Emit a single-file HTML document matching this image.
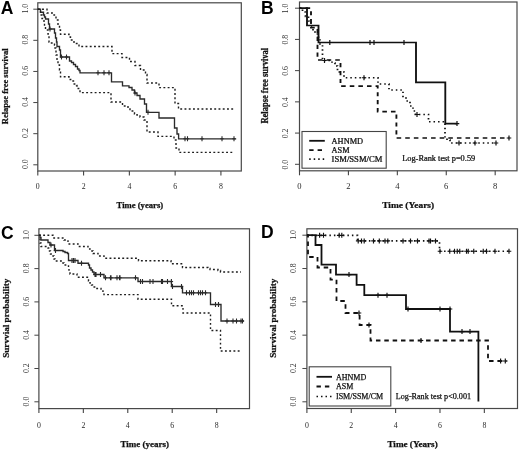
<!DOCTYPE html>
<html><head><meta charset="utf-8"><style>html,body{margin:0;padding:0;background:#fff;width:520px;height:452px;overflow:hidden}svg{display:block}</style></head>
<body>
<svg style="will-change:transform" width="520" height="452" viewBox="0 0 520 452" font-family="Liberation Serif">
<style>text{stroke:#111;stroke-width:0.25px}</style>
<rect width="520" height="452" fill="#fff"/>
<rect x="37.8" y="2.8" width="203.5" height="168.2" fill="none" stroke="#484848" stroke-width="1.2"/>
<path d="M37.8 171V175.5" stroke="#444" stroke-width="1.1"/>
<text x="37.8" y="189.2" font-size="7.8" text-anchor="middle" fill="#2a2a2a" style="stroke:none" transform="matrix(1.0 0 0 1 0.0 0)">0</text>
<path d="M83.58 171V175.5" stroke="#444" stroke-width="1.1"/>
<text x="83.58" y="189.2" font-size="7.8" text-anchor="middle" fill="#2a2a2a" style="stroke:none" transform="matrix(1.0 0 0 1 0.0 0)">2</text>
<path d="M129.36 171V175.5" stroke="#444" stroke-width="1.1"/>
<text x="129.36" y="189.2" font-size="7.8" text-anchor="middle" fill="#2a2a2a" style="stroke:none" transform="matrix(1.0 0 0 1 0.0 0)">4</text>
<path d="M175.14 171V175.5" stroke="#444" stroke-width="1.1"/>
<text x="175.14" y="189.2" font-size="7.8" text-anchor="middle" fill="#2a2a2a" style="stroke:none" transform="matrix(1.0 0 0 1 0.0 0)">6</text>
<path d="M220.92 171V175.5" stroke="#444" stroke-width="1.1"/>
<text x="220.92" y="189.2" font-size="7.8" text-anchor="middle" fill="#2a2a2a" style="stroke:none" transform="matrix(1.0 0 0 1 0.0 0)">8</text>
<path d="M33.3 164.8H37.8" stroke="#444" stroke-width="1"/>
<text x="28.3" y="164.20000000000002" font-size="7.8" text-anchor="middle" fill="#2a2a2a" style="stroke:none" transform="rotate(-90 28.3 164.20000000000002)">0.0</text>
<path d="M33.3 133.68H37.8" stroke="#444" stroke-width="1"/>
<text x="28.3" y="133.08" font-size="7.8" text-anchor="middle" fill="#2a2a2a" style="stroke:none" transform="rotate(-90 28.3 133.08)">0.2</text>
<path d="M33.3 102.56H37.8" stroke="#444" stroke-width="1"/>
<text x="28.3" y="101.96000000000001" font-size="7.8" text-anchor="middle" fill="#2a2a2a" style="stroke:none" transform="rotate(-90 28.3 101.96000000000001)">0.4</text>
<path d="M33.3 71.44H37.8" stroke="#444" stroke-width="1"/>
<text x="28.3" y="70.84" font-size="7.8" text-anchor="middle" fill="#2a2a2a" style="stroke:none" transform="rotate(-90 28.3 70.84)">0.6</text>
<path d="M33.3 40.32H37.8" stroke="#444" stroke-width="1"/>
<text x="28.3" y="39.72" font-size="7.8" text-anchor="middle" fill="#2a2a2a" style="stroke:none" transform="rotate(-90 28.3 39.72)">0.8</text>
<path d="M33.3 9.2H37.8" stroke="#444" stroke-width="1"/>
<text x="28.3" y="8.6" font-size="7.8" text-anchor="middle" fill="#2a2a2a" style="stroke:none" transform="rotate(-90 28.3 8.6)">1.0</text>
<rect x="299.5" y="2" width="217.5" height="168.8" fill="none" stroke="#484848" stroke-width="1.2"/>
<path d="M299.5 170.8V175.3" stroke="#444" stroke-width="1.1"/>
<text x="299.5" y="189.0" font-size="7.8" text-anchor="middle" fill="#2a2a2a" style="stroke:none" transform="matrix(1.1 0 0 1 -29.95 0)">0</text>
<path d="M348.42 170.8V175.3" stroke="#444" stroke-width="1.1"/>
<text x="348.42" y="189.0" font-size="7.8" text-anchor="middle" fill="#2a2a2a" style="stroke:none" transform="matrix(1.1 0 0 1 -34.842 0)">2</text>
<path d="M397.34 170.8V175.3" stroke="#444" stroke-width="1.1"/>
<text x="397.34" y="189.0" font-size="7.8" text-anchor="middle" fill="#2a2a2a" style="stroke:none" transform="matrix(1.1 0 0 1 -39.734 0)">4</text>
<path d="M446.26 170.8V175.3" stroke="#444" stroke-width="1.1"/>
<text x="446.26" y="189.0" font-size="7.8" text-anchor="middle" fill="#2a2a2a" style="stroke:none" transform="matrix(1.1 0 0 1 -44.626 0)">6</text>
<path d="M495.18 170.8V175.3" stroke="#444" stroke-width="1.1"/>
<text x="495.18" y="189.0" font-size="7.8" text-anchor="middle" fill="#2a2a2a" style="stroke:none" transform="matrix(1.1 0 0 1 -49.518 0)">8</text>
<path d="M295.0 164.3H299.5" stroke="#444" stroke-width="1"/>
<text x="287.9" y="164.60000000000002" font-size="7.8" text-anchor="middle" fill="#2a2a2a" style="stroke:none" transform="rotate(-90 287.9 164.60000000000002)">0.0</text>
<path d="M295.0 133.08H299.5" stroke="#444" stroke-width="1"/>
<text x="287.9" y="133.38000000000002" font-size="7.8" text-anchor="middle" fill="#2a2a2a" style="stroke:none" transform="rotate(-90 287.9 133.38000000000002)">0.2</text>
<path d="M295.0 101.86H299.5" stroke="#444" stroke-width="1"/>
<text x="287.9" y="102.16" font-size="7.8" text-anchor="middle" fill="#2a2a2a" style="stroke:none" transform="rotate(-90 287.9 102.16)">0.4</text>
<path d="M295.0 70.64H299.5" stroke="#444" stroke-width="1"/>
<text x="287.9" y="70.94" font-size="7.8" text-anchor="middle" fill="#2a2a2a" style="stroke:none" transform="rotate(-90 287.9 70.94)">0.6</text>
<path d="M295.0 39.42H299.5" stroke="#444" stroke-width="1"/>
<text x="287.9" y="39.72" font-size="7.8" text-anchor="middle" fill="#2a2a2a" style="stroke:none" transform="rotate(-90 287.9 39.72)">0.8</text>
<path d="M295.0 8.2H299.5" stroke="#444" stroke-width="1"/>
<text x="287.9" y="8.5" font-size="7.8" text-anchor="middle" fill="#2a2a2a" style="stroke:none" transform="rotate(-90 287.9 8.5)">1.0</text>
<rect x="38.9" y="228.8" width="210.6" height="179.8" fill="none" stroke="#484848" stroke-width="1.2"/>
<path d="M38.9 408.6V413.1" stroke="#444" stroke-width="1.1"/>
<text x="38.9" y="427.5" font-size="7.8" text-anchor="middle" fill="#2a2a2a" style="stroke:none" transform="matrix(1.0 0 0 1 0.0 0)">0</text>
<path d="M83.34 408.6V413.1" stroke="#444" stroke-width="1.1"/>
<text x="83.34" y="427.5" font-size="7.8" text-anchor="middle" fill="#2a2a2a" style="stroke:none" transform="matrix(1.0 0 0 1 0.0 0)">2</text>
<path d="M127.78 408.6V413.1" stroke="#444" stroke-width="1.1"/>
<text x="127.78" y="427.5" font-size="7.8" text-anchor="middle" fill="#2a2a2a" style="stroke:none" transform="matrix(1.0 0 0 1 0.0 0)">4</text>
<path d="M172.22 408.6V413.1" stroke="#444" stroke-width="1.1"/>
<text x="172.22" y="427.5" font-size="7.8" text-anchor="middle" fill="#2a2a2a" style="stroke:none" transform="matrix(1.0 0 0 1 0.0 0)">6</text>
<path d="M216.66 408.6V413.1" stroke="#444" stroke-width="1.1"/>
<text x="216.66" y="427.5" font-size="7.8" text-anchor="middle" fill="#2a2a2a" style="stroke:none" transform="matrix(1.0 0 0 1 0.0 0)">8</text>
<path d="M34.4 401.8H38.9" stroke="#444" stroke-width="1"/>
<text x="28.6" y="401.5" font-size="7.8" text-anchor="middle" fill="#2a2a2a" style="stroke:none" transform="rotate(-90 28.6 401.5)">0.0</text>
<path d="M34.4 368.5H38.9" stroke="#444" stroke-width="1"/>
<text x="28.6" y="368.2" font-size="7.8" text-anchor="middle" fill="#2a2a2a" style="stroke:none" transform="rotate(-90 28.6 368.2)">0.2</text>
<path d="M34.4 335.2H38.9" stroke="#444" stroke-width="1"/>
<text x="28.6" y="334.9" font-size="7.8" text-anchor="middle" fill="#2a2a2a" style="stroke:none" transform="rotate(-90 28.6 334.9)">0.4</text>
<path d="M34.4 301.9H38.9" stroke="#444" stroke-width="1"/>
<text x="28.6" y="301.59999999999997" font-size="7.8" text-anchor="middle" fill="#2a2a2a" style="stroke:none" transform="rotate(-90 28.6 301.59999999999997)">0.6</text>
<path d="M34.4 268.6H38.9" stroke="#444" stroke-width="1"/>
<text x="28.6" y="268.3" font-size="7.8" text-anchor="middle" fill="#2a2a2a" style="stroke:none" transform="rotate(-90 28.6 268.3)">0.8</text>
<path d="M34.4 235.3H38.9" stroke="#444" stroke-width="1"/>
<text x="28.6" y="235.0" font-size="7.8" text-anchor="middle" fill="#2a2a2a" style="stroke:none" transform="rotate(-90 28.6 235.0)">1.0</text>
<rect x="306.9" y="228.8" width="210.60000000000002" height="179.7" fill="none" stroke="#484848" stroke-width="1.2"/>
<path d="M306.9 408.5V413.0" stroke="#444" stroke-width="1.1"/>
<text x="306.9" y="427.5" font-size="7.8" text-anchor="middle" fill="#2a2a2a" style="stroke:none" transform="matrix(1.0 0 0 1 0.0 0)">0</text>
<path d="M351.26 408.5V413.0" stroke="#444" stroke-width="1.1"/>
<text x="351.26" y="427.5" font-size="7.8" text-anchor="middle" fill="#2a2a2a" style="stroke:none" transform="matrix(1.0 0 0 1 0.0 0)">2</text>
<path d="M395.62 408.5V413.0" stroke="#444" stroke-width="1.1"/>
<text x="395.62" y="427.5" font-size="7.8" text-anchor="middle" fill="#2a2a2a" style="stroke:none" transform="matrix(1.0 0 0 1 0.0 0)">4</text>
<path d="M439.98 408.5V413.0" stroke="#444" stroke-width="1.1"/>
<text x="439.98" y="427.5" font-size="7.8" text-anchor="middle" fill="#2a2a2a" style="stroke:none" transform="matrix(1.0 0 0 1 0.0 0)">6</text>
<path d="M484.34 408.5V413.0" stroke="#444" stroke-width="1.1"/>
<text x="484.34" y="427.5" font-size="7.8" text-anchor="middle" fill="#2a2a2a" style="stroke:none" transform="matrix(1.0 0 0 1 0.0 0)">8</text>
<path d="M302.4 401.8H306.9" stroke="#444" stroke-width="1"/>
<text x="296.1" y="401.5" font-size="7.8" text-anchor="middle" fill="#2a2a2a" style="stroke:none" transform="rotate(-90 296.1 401.5)">0.0</text>
<path d="M302.4 368.48H306.9" stroke="#444" stroke-width="1"/>
<text x="296.1" y="368.18" font-size="7.8" text-anchor="middle" fill="#2a2a2a" style="stroke:none" transform="rotate(-90 296.1 368.18)">0.2</text>
<path d="M302.4 335.16H306.9" stroke="#444" stroke-width="1"/>
<text x="296.1" y="334.86" font-size="7.8" text-anchor="middle" fill="#2a2a2a" style="stroke:none" transform="rotate(-90 296.1 334.86)">0.4</text>
<path d="M302.4 301.84H306.9" stroke="#444" stroke-width="1"/>
<text x="296.1" y="301.53999999999996" font-size="7.8" text-anchor="middle" fill="#2a2a2a" style="stroke:none" transform="rotate(-90 296.1 301.53999999999996)">0.6</text>
<path d="M302.4 268.52H306.9" stroke="#444" stroke-width="1"/>
<text x="296.1" y="268.21999999999997" font-size="7.8" text-anchor="middle" fill="#2a2a2a" style="stroke:none" transform="rotate(-90 296.1 268.21999999999997)">0.8</text>
<path d="M302.4 235.2H306.9" stroke="#444" stroke-width="1"/>
<text x="296.1" y="234.89999999999998" font-size="7.8" text-anchor="middle" fill="#2a2a2a" style="stroke:none" transform="rotate(-90 296.1 234.89999999999998)">1.0</text>
<path d="M37.8 9.2H40.5V12.2H43.5V15H44.5V17H45.5V19H48.5V24H49.5V29H54.5V33H55.5V38H56.5V42H57V46.5H59.5V50H60.5V57H69.5V61H71.5V62.5H73.5V64.5H75.5V66.5H77.5V69H79V70.5H80V72.8H111.5V81.8H122.5V85.8H129V87.5H132V90H134.5V93H137V95.5H140V99H144.5V104H146.5V112.3H159V118H174.5V128H177V134H178.6V138.8H236.2" fill="none" stroke="#2a2a2a" stroke-width="1.35" stroke-linecap="butt"/>
<path d="M37.8 9.2H47V13H54V15H56V20H58V25H59.5V30H60.5V34.2H69V37H70.5V40H74V43.5H79V46.5H112V53.6H122V57.5H129.5V61.5H135V65.5H140.5V70H145.5V74.5H147V83H159V87.6H175V103.5H178.5V109H234.5" fill="none" stroke="#1e1e1e" stroke-width="1.4" stroke-dasharray="1.9 2.35" stroke-linecap="butt"/>
<path d="M37.8 9.2H40.5V15H42V18.5H44V22H44.5V26H45.5V30H48V34H49V42H49.5V43H54.5V45H55V48H56V55H57V60H58V65H59.5V70H60.5V76.8H69V79.5H73V81H73.5V84H76.5V85.5H77V88.5H79.5V90H80V92.6H111V102H122.5V106H128V108H130V111H134.5V114H137V115H140V117H144V120H147V132H158V136.4H174V140H176V148H179V152.4H234" fill="none" stroke="#1e1e1e" stroke-width="1.4" stroke-dasharray="1.9 2.35" stroke-linecap="butt"/>
<path d="M48.3 29H51.7M50 26.5V31.5M59.8 57H63.2M61.5 54.5V59.5M64.8 57H68.2M66.5 54.5V59.5M96.3 72.8H99.7M98 70.3V75.3M102.3 72.8H105.7M104 70.3V75.3M107.3 72.8H110.7M109 70.3V75.3M133.3 93H136.7M135 90.5V95.5M146.3 112.3H149.7M148 109.8V114.8M183.3 138.8H186.7M185 136.3V141.3M185.8 138.8H189.2M187.5 136.3V141.3M200.3 138.8H203.7M202 136.3V141.3M220.3 138.8H223.7M222 136.3V141.3M232.3 138.8H235.7M234 136.3V141.3" fill="none" stroke="#2a2a2a" stroke-width="1.1"/>
<g transform="matrix(1.09 0 0 1 -26.955 0)"><path d="M299.5 8.2H306.381V25.5H316.931V42.5H406.381V82.4H433.261V123.6H443.995" fill="none" stroke="#111" stroke-width="1.7" stroke-linecap="butt"/>
<path d="M325.198 42.5H329.398M327.298 40.0V45.0M362.07899999999995 42.5H366.279M364.179 40.0V45.0M365.74899999999997 42.5H369.949M367.849 40.0V45.0M393.272 42.5H397.47200000000004M395.372 40.0V45.0M441.895 123.6H446.095M443.995 121.1V126.1" fill="none" stroke="#111" stroke-width="1.1"/>
<path d="M299.5 8.2H310.05V27.7H316.014V60H337.115V86.2H371.243V111.6H388.399V138H491.702" fill="none" stroke="#111" stroke-width="1.7" stroke-dasharray="4.2 3.7" stroke-dashoffset="2.3" stroke-linecap="butt"/>
<path d="M489.602 138H493.802M491.702 135.5V140.5" fill="none" stroke="#111" stroke-width="1.1"/>
<path d="M299.5 8.2H302.252V12H305.005V16.5H307.757V21H310.05V27H311.885V31H313.72V34H316.931V39H318.307V44H320.601V60.5H329.317V63H332.069V66H334.362V72H340.326V77.8H371.518V84H381.61V90H394.454V96.5H397.206V101H400.876V106H403.628V111H405.922V114.5H417.849V121.8H432.986V137.6H434.821V140H437.573V143H479.775" fill="none" stroke="#111" stroke-width="1.6" stroke-dasharray="1.4 2.75" stroke-linecap="butt"/>
<path d="M320.33599999999996 60.5H324.536M322.436 58.0V63.0M356.57399999999996 77.8H360.774M358.674 75.3V80.3M405.198 114.5H409.398M407.298 112.0V117.0M443.72999999999996 143H447.93M445.83 140.5V145.5M458.409 143H462.60900000000004M460.509 140.5V145.5M477.67499999999995 143H481.875M479.775 140.5V145.5" fill="none" stroke="#111" stroke-width="1.1"/></g>
<path d="M38.9 235.3H40V237.5H41V240H48V242.5H50V245H54.5V250.5H63V251.5H65V252.5H67.5V253.5H68.5V260.5H78V263.2H88.5V265H89.5V268H91V270H92.5V272H94V274.5H104V277.8H138V281.5H171.5V286.5H182.5V292.8H210.5V304.5H221V321H244" fill="none" stroke="#2a2a2a" stroke-width="1.35" stroke-linecap="butt"/>
<path d="M49.3 245H52.7M51 242.5V247.5M53.8 250.5H57.2M55.5 248.0V253.0M70.3 260.5H73.7M72 258.0V263.0M71.8 260.5H75.2M73.5 258.0V263.0M73.3 260.5H76.7M75 258.0V263.0M79.8 263.2H83.2M81.5 260.7V265.7M93.3 274.5H96.7M95 272.0V277.0M94.3 274.5H97.7M96 272.0V277.0M98.8 274.5H102.2M100.5 272.0V277.0M103.8 277.8H107.2M105.5 275.3V280.3M108.8 277.8H112.2M110.5 275.3V280.3M109.3 277.8H112.7M111 275.3V280.3M115.3 277.8H118.7M117 275.3V280.3M117.8 277.8H121.2M119.5 275.3V280.3M118.3 277.8H121.7M120 275.3V280.3M133.8 277.8H137.2M135.5 275.3V280.3M138.8 281.5H142.2M140.5 279.0V284.0M140.8 281.5H144.2M142.5 279.0V284.0M148.3 281.5H151.7M150 279.0V284.0M151.3 281.5H154.7M153 279.0V284.0M159.8 281.5H163.2M161.5 279.0V284.0M160.8 281.5H164.2M162.5 279.0V284.0M165.8 281.5H169.2M167.5 279.0V284.0M169.70000000000002 281.5H173.1M171.4 279.0V284.0M170.8 286.5H174.2M172.5 284.0V289.0M179.8 286.5H183.2M181.5 284.0V289.0M184.8 292.8H188.2M186.5 290.3V295.3M187.8 292.8H191.2M189.5 290.3V295.3M189.8 292.8H193.2M191.5 290.3V295.3M191.8 292.8H195.2M193.5 290.3V295.3M196.8 292.8H200.2M198.5 290.3V295.3M198.8 292.8H202.2M200.5 290.3V295.3M200.8 292.8H204.2M202.5 290.3V295.3M203.8 292.8H207.2M205.5 290.3V295.3M213.8 304.5H217.2M215.5 302.0V307.0M216.8 304.5H220.2M218.5 302.0V307.0M225.3 321H228.7M227 318.5V323.5M231.3 321H234.7M233 318.5V323.5M234.8 321H238.2M236.5 318.5V323.5M239.3 321H242.7M241 318.5V323.5M240.8 321H244.2M242.5 318.5V323.5" fill="none" stroke="#2a2a2a" stroke-width="1.1"/>
<path d="M38.9 235.3H53V238H64V240H68V244H78V246.5H88V249H90V251H93V253.5H98V256H104V258.2H138.5V260.8H171V263.8H182.5V267.5H208V268.5H210V269.5H218V270.5H220.5V272H241" fill="none" stroke="#1e1e1e" stroke-width="1.4" stroke-dasharray="1.9 2.35" stroke-linecap="butt"/>
<path d="M38.9 235.3H40V243H41V246.5H48V248H49.5V251H50.5V254H53V256H54V259H55V261H62V263H64V265H68.5V268H69V272H70V274H77V277.2H88.5V281H90V283H91.5V285H92.5V287H95.5V288.5H101V291H103V292.5H104V294.6H138V299.2H171.5V305.8H183V313H210.5V330.5H220.5V351H241" fill="none" stroke="#1e1e1e" stroke-width="1.4" stroke-dasharray="1.9 2.35" stroke-linecap="butt"/>
<path d="M306.9 235.2H315.5V245H321.5V264.6H336V274.6H356.6V284.8H364.3V295.2H406V309H450V331.6H478.4V401.5" fill="none" stroke="#111" stroke-width="1.8" stroke-linecap="butt"/>
<path d="M346.7 274.6H351.3M349 272.1V277.1M375.7 295.2H380.3M378 292.7V297.7M384.7 295.2H389.3M387 292.7V297.7M405.7 309H410.3M408 306.5V311.5M437.7 309H442.3M440 306.5V311.5M447.7 309H452.3M450 306.5V311.5M459.7 331.6H464.3M462 329.1V334.1M467.7 331.6H472.3M470 329.1V334.1" fill="none" stroke="#111" stroke-width="1.15"/>
<path d="M306.9 235.2H308V257H317.5V267.5H330.5V279.6H336.5V301H345.5V313H359.6V325H370.5V340.5H488V361H506.5" fill="none" stroke="#111" stroke-width="1.8" stroke-dasharray="4.5 3.85" stroke-dashoffset="1.0" stroke-linecap="butt"/>
<path d="M356.7 313H361.3M359 310.5V315.5M366.7 325H371.3M369 322.5V327.5M418.7 340.5H423.3M421 338.0V343.0M498.3 361H502.90000000000003M500.6 358.5V363.5M503.0 361H507.6M505.3 358.5V363.5" fill="none" stroke="#111" stroke-width="1.15"/>
<path d="M306.9 235.4H357.5V240.9H439.5V251.25H510" fill="none" stroke="#111" stroke-width="1.7" stroke-dasharray="1.5 3" stroke-linecap="butt"/>
<path d="M317.3 235.3H321.90000000000003M319.6 232.8V237.8M321.2 235.3H325.8M323.5 232.8V237.8M336.9 235.3H341.5M339.2 232.8V237.8M339.5 235.3H344.1M341.8 232.8V237.8M355.9 240.9H360.5M358.2 238.4V243.4M359.2 240.9H363.8M361.5 238.4V243.4M361.9 240.9H366.5M364.2 238.4V243.4M371.2 240.9H375.8M373.5 238.4V243.4M377.0 240.9H381.6M379.3 238.4V243.4M382.7 240.9H387.3M385 238.4V243.4M385.5 240.9H390.1M387.8 238.4V243.4M400.7 240.9H405.3M403 238.4V243.4M408.2 240.9H412.8M410.5 238.4V243.4M415.2 240.9H419.8M417.5 238.4V243.4M426.7 240.9H431.3M429 238.4V243.4M428.2 240.9H432.8M430.5 238.4V243.4M433.2 240.9H437.8M435.5 238.4V243.4M437.7 251.25H442.3M440 248.75V253.75M447.45 251.25H452.05M449.75 248.75V253.75M452.2 251.25H456.8M454.5 248.75V253.75M454.95 251.25H459.55M457.25 248.75V253.75M457.45 251.25H462.05M459.75 248.75V253.75M464.2 251.25H468.8M466.5 248.75V253.75M465.95 251.25H470.55M468.25 248.75V253.75M471.45 251.25H476.05M473.75 248.75V253.75M480.95 251.25H485.55M483.25 248.75V253.75M484.2 251.25H488.8M486.5 248.75V253.75M492.7 251.25H497.3M495 248.75V253.75M506.7 251.25H511.3M509 248.75V253.75" fill="none" stroke="#111" stroke-width="1.15"/>
<rect x="302" y="131.5" width="84.19999999999999" height="36.69999999999999" fill="none" stroke="#444" stroke-width="1.1"/>
<path d="M309.2 140.8H324.8" stroke="#111" stroke-width="1.8"/>
<path d="M309.2 150.2H324.8" stroke="#111" stroke-width="1.8" stroke-dasharray="4.4 4"/>
<path d="M309.2 159.2H324.8" stroke="#111" stroke-width="1.7" stroke-dasharray="1.5 3"/>
<text x="331.6" y="143.60000000000002" font-size="7.6" fill="#111" transform="matrix(1.1 0 0 1 -33.16 0)">AHNMD</text>
<text x="331.6" y="153.0" font-size="7.6" fill="#111" transform="matrix(1.1 0 0 1 -33.16 0)">ASM</text>
<text x="331.6" y="162.0" font-size="7.6" fill="#111" textLength="46.2" lengthAdjust="spacingAndGlyphs" transform="matrix(1.1 0 0 1 -33.16 0)">ISM/SSM/CM</text>
<rect x="309.2" y="366.8" width="81.60000000000002" height="39.19999999999999" fill="none" stroke="#444" stroke-width="1.1"/>
<path d="M316.5 376.8H332" stroke="#111" stroke-width="1.8"/>
<path d="M316.5 386.5H332" stroke="#111" stroke-width="1.8" stroke-dasharray="4.4 4"/>
<path d="M316.5 396.5H332" stroke="#111" stroke-width="1.7" stroke-dasharray="1.5 3"/>
<text x="336" y="379.6" font-size="8.0" fill="#111" transform="matrix(1.0 0 0 1 0.0 0)">AHNMD</text>
<text x="336" y="389.3" font-size="8.0" fill="#111" transform="matrix(1.0 0 0 1 0.0 0)">ASM</text>
<text x="336" y="399.3" font-size="8.0" fill="#111" transform="matrix(1.0 0 0 1 0.0 0)">ISM/SSM/CM</text>

<text x="0.8" y="13.8" font-family="Liberation Sans" font-weight="bold" font-size="17.5" fill="#000" style="stroke:none">A</text>
<text x="261.1" y="13.6" font-family="Liberation Sans" font-weight="bold" font-size="17.5" fill="#000" style="stroke:none">B</text>
<text x="1" y="238.9" font-family="Liberation Sans" font-weight="bold" font-size="17.5" fill="#000" style="stroke:none">C</text>
<text x="261.1" y="237.8" font-family="Liberation Sans" font-weight="bold" font-size="17.5" fill="#000" style="stroke:none">D</text>
<text x="139.85" y="208.3" font-weight="bold" font-size="8.65" text-anchor="middle" fill="#111">Time (years)</text>
<text x="408.2" y="208" font-weight="bold" font-size="8.58" text-anchor="middle" fill="#111" transform="matrix(1.1 0 0 1 -40.82 0)">Time (Years)</text>
<text x="144.75" y="447" font-weight="bold" font-size="8.99" text-anchor="middle" fill="#111">Time (years)</text>
<text x="412.6" y="446.8" font-weight="bold" font-size="9.13" text-anchor="middle" fill="#111">Time (Years)</text>
<text x="8.4" y="86.3" font-weight="bold" font-size="8.5" text-anchor="middle" fill="#111" transform="rotate(-90 8.4 86.3)">Relapse free survival</text>
<text x="267.7" y="85.7" font-weight="bold" font-size="8.5" text-anchor="middle" fill="#111" transform="matrix(1.1 0 0 1 -26.77 0) rotate(-90 267.7 85.7)">Relapse free survival</text>
<text x="8.5" y="318.25" font-weight="bold" font-size="9.2" text-anchor="middle" fill="#111" transform="rotate(-90 8.5 318.25)">Survvial probability</text>
<text x="276.4" y="318.25" font-weight="bold" font-size="9.2" text-anchor="middle" fill="#111" transform="rotate(-90 276.4 318.25)">Survival probability</text>
<text x="402.2" y="161.5" font-size="7.6" fill="#111" transform="matrix(1.1 0 0 1 -40.22 0)">Log-Rank test p=0.59</text>
<text x="395.8" y="398.8" font-size="8.15" fill="#111">Log-Rank test p&lt;0.001</text>

</svg>
</body></html>
